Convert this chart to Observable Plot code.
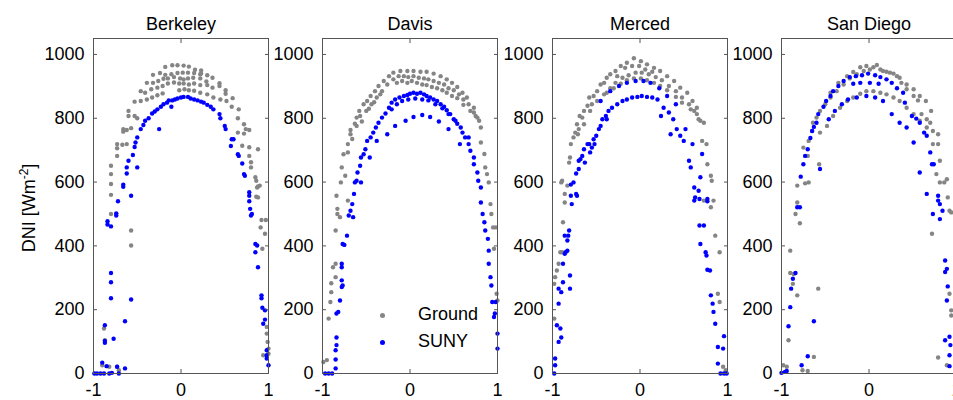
<!DOCTYPE html>
<html>
<head>
<meta charset="utf-8">
<script src="https://cdn.jsdelivr.net/npm/d3@7"></script>
<script src="https://cdn.jsdelivr.net/npm/@observablehq/plot@0.6"></script>
<style>
  html, body { margin: 0; padding: 0; background: #fff; }
  #chart { position: relative; width: 953px; height: 400px; overflow: hidden; background: #fff;
           font-family: "Liberation Sans", Arial, sans-serif; color: #000; }
  #chart svg { position: absolute; top: 0; }
  .ylab { position: absolute; left: 28px; top: 208px; transform: translate(-50%, -50%) rotate(-90deg);
          white-space: nowrap; font-size: 18px; }
  .ylab sup { font-size: 12px; }
  .leg { position: absolute; font-size: 18px; line-height: 20px; }
  .legdot { position: absolute; width: 5px; height: 5px; border-radius: 50%; }
</style>
</head>
<body>
<div id="chart"></div>
<script>
const sites = ["Berkeley", "Davis", "Merced", "San Diego"];
const seriesNames = ["Ground", "SUNY"];
const xTicks = [-1, 0, 1];
const yTicks = [0, 200, 400, 600, 800, 1000];

// [cosine-like x, DNI W/m^2]
const groundBerkeley = [
[-0.18,961],[-0.10,966],[-0.04,966],[0.03,965],[0.09,962],[0.16,952],[0.23,950],[0.23,940],[0.30,935],[0.36,927],[0.44,910],[0.44,901],[0.51,888],[0.51,877],[0.59,863],[0.58,836],[0.66,828],[0.65,800],[0.72,781],[0.74,766],[0.78,763],[0.72,752],[0.65,755],[0.70,714],[0.78,709],[0.88,703],[0.78,682],[0.80,662],[0.80,646],[0.85,615],[0.86,604],[0.88,586],[0.86,554],
[-0.32,936],[-0.24,942],[-0.18,936],[-0.11,938],[-0.04,942],[0.02,943],[0.08,943],[0.15,942],[0.22,938],
[-0.39,911],[-0.32,911],[-0.26,917],[-0.20,924],[-0.15,925],[-0.08,929],[-0.01,925],[0.03,922],[0.08,925],[0.14,927],[0.22,925],[0.29,915],
[-0.46,885],[-0.41,880],[-0.34,891],[-0.27,896],[-0.21,901],[-0.15,909],[-0.08,912],[-0.02,909],[0.03,909],[0.09,906],[0.15,909],[0.22,904],[0.30,904],[0.36,896],
[-0.53,852],[-0.46,854],[-0.39,859],[-0.33,865],[-0.27,872],[-0.21,878],
[-0.02,888],[0.04,891],[0.09,888],[0.15,886],[0.22,880],[0.30,875],[0.37,865],[0.45,859],[0.52,854],
[-0.60,823],[-0.60,807],[-0.53,807],[-0.50,800],[-0.66,766],[-0.66,758],[-0.62,763],[-0.57,769],[-0.73,719],[-0.73,706],[-0.67,717],[-0.62,719],[-0.73,682],[-0.80,651],[-0.80,625],[-0.80,594],[-0.80,560],[-0.80,500],
[0.92,481],[0.97,481],[0.91,458],[0.96,438],[0.93,391],[0.90,589],[0.87,583],[0.88,552],[0.98,125],[0.98,146],[0.99,99],[0.94,57],[1.0,62],[1.0,78],
[-0.88,141],[-0.87,104],[-0.90,26],[-0.82,21],[-0.73,21],[-0.71,10],[-0.57,448],[-0.57,401]
];
const sunyBerkeley = [
[-0.41,792],[-0.37,800],[-0.33,815],[-0.30,821],[-0.27,828],[-0.23,836],[-0.20,844],[-0.16,849],[-0.14,856],[-0.10,856],[-0.07,859],[-0.04,862],[0.00,865],[0.03,867],[0.08,867],[0.11,862],[0.15,859],[0.19,856],[0.23,852],[0.26,849],[0.30,842],[0.34,836],[0.37,828],[0.44,813],[0.45,800],[0.50,776],[0.51,766],[0.58,734],[0.60,734],[0.57,713],[0.65,687],[0.66,682],[0.70,658],[0.72,625],[0.73,620],[0.78,568],[0.78,557],[0.78,540],[0.79,516],[0.81,500],
[-0.43,779],[-0.46,766],[-0.50,740],[-0.52,724],[-0.53,710],[-0.55,685],[-0.60,667],[-0.62,646],[-0.62,627],[-0.66,592],[-0.66,585],[-0.72,540],[-0.74,502],[-0.74,495],[-0.57,557],[-0.50,646],[-0.25,766],[-0.11,836],
[-0.84,477],[-0.84,467],[-0.80,461],[-0.80,315],[-0.80,286],[-0.80,236],[-0.87,151],[-0.87,102],[-0.87,96],[-0.77,109],[-0.64,164],[-0.57,232],[-0.90,34],[-0.85,23],[-0.73,21],[-0.64,16],[-0.79,2],[-0.99,0],[-0.96,0],[-0.92,0],[-0.88,0],[-0.82,0],[-0.71,0],
[0.80,495],[0.85,406],[0.87,401],[0.85,380],[0.88,333],[0.92,245],[0.92,236],[0.93,206],[0.96,198],[0.94,156],[0.96,169],[0.98,73],[0.98,57],[0.98,47],[1.0,26]
];

const groundDavis = [
[-0.99,36],[-0.95,42],[-0.93,172],[-0.91,224],[-0.90,255],[-0.90,283],[-0.85,344],[-0.88,333],[-0.85,302],[-0.85,448],[-0.83,500],[-0.83,516],[-0.84,557],[-0.79,599],[-0.78,646],[-0.76,687],[-0.71,693],[-0.71,719],[-0.68,750],[-0.68,763],[-0.63,783],[-0.61,802],[-0.58,823],[-0.53,844],[-0.49,854],[-0.45,870],[-0.40,885],[-0.36,901],[-0.30,917],[-0.24,932],[-0.19,943],[-0.11,948],[-0.03,948],[0.04,948],[0.12,946],[0.19,946],[0.27,940],[0.35,932],[0.42,922],[0.48,911],[0.54,898],[0.60,880],[0.65,865],[0.73,833],[0.77,802],[0.81,771],[0.81,724],[0.85,688],[0.86,646],[0.88,625],[0.90,599],[0.92,531],[0.93,500],[0.95,458],[0.96,391],[0.98,458],[0.99,250],[1.0,229],
[-0.44,844],[-0.50,823],[-0.57,807],[-0.61,776],[-0.38,865],[-0.32,885],[-0.26,906],[-0.19,922],[-0.13,932],[-0.07,932],[-0.02,929],[0.04,932],[0.10,927],[0.16,925],[0.21,922],[0.27,917],[0.33,911],[0.39,906],[0.44,894],[0.50,888],[0.56,875],[0.61,859],[0.67,844],[0.73,818],[0.79,792],
[-0.15,911],[-0.09,917],[-0.03,911],[0.02,917],[0.08,911],[0.14,906],[0.19,904],[0.25,898],[0.31,894],[0.37,888],[0.42,880],[0.48,870],[0.54,863],[0.61,842],[0.69,823],[0.75,807],
[-0.71,542],[-0.80,490],[-0.74,620],[-0.66,735],[-0.55,790],[-0.47,830],[-0.41,850],[-0.34,875]
];
const sunyDavis = [
[-0.97,0],[-0.93,0],[-0.89,0],[-0.85,16],[-0.85,44],[-0.85,73],[-0.84,89],[-0.84,113],[-0.84,188],[-0.82,193],[-0.80,229],[-0.78,271],[-0.77,276],[-0.78,292],[-0.78,333],[-0.78,344],[-0.77,406],[-0.75,403],[-0.72,432],[-0.70,495],[-0.68,510],[-0.66,531],[-0.65,490],[-0.64,563],[-0.63,599],[-0.61,604],[-0.56,599],[-0.60,630],[-0.57,651],[-0.56,677],[-0.53,687],[-0.51,703],[-0.46,677],[-0.49,729],[-0.45,740],[-0.42,755],[-0.39,771],[-0.36,786],[-0.32,802],[-0.28,815],[-0.24,833],[-0.21,849],[-0.17,859],[-0.12,865],[-0.07,870],[-0.03,873],[0.00,877],[0.04,880],[0.08,877],[0.12,880],[0.16,875],[0.19,870],[0.23,865],[0.27,859],[0.31,854],[0.35,844],[0.39,836],[0.42,825],[0.46,813],[0.50,797],[0.54,783],[0.58,771],[0.60,755],[0.63,740],[0.67,719],[0.69,698],[0.73,677],[0.73,656],[0.77,630],[0.78,604],[0.81,583],[0.81,536],[0.83,500],[0.85,474],[0.86,448],[0.89,422],[0.90,385],[0.90,344],[0.92,302],[0.93,276],[0.94,224],[0.97,188],[0.96,177],[0.98,224],[1.0,125],[1.0,78],
[-0.26,750],[-0.17,776],[-0.05,792],[0.04,804],[0.14,810],[0.23,804],[0.33,790],[0.44,766],[0.57,719],[-0.38,729],
[-0.21,828],[-0.15,844],[-0.09,854],[-0.02,859],[0.06,862],[0.14,859],[0.21,856],[0.29,844],[0.37,831],[0.44,813],[0.52,792],[0.67,740]
];

const groundMerced = [
[-0.98,281],[-0.97,302],[-0.98,172],[-0.95,323],[-0.93,344],[-0.91,380],[-0.89,380],[-0.88,474],[-0.90,599],[-0.89,604],[-0.86,536],[-0.86,563],[-0.83,589],[-0.81,661],[-0.80,677],[-0.79,719],[-0.76,740],[-0.74,755],[-0.71,750],[-0.72,781],[-0.69,807],[-0.66,802],[-0.64,823],[-0.60,839],[-0.58,865],[-0.55,844],[-0.53,870],[-0.49,885],[-0.45,906],[-0.41,911],[-0.38,927],[-0.34,938],[-0.28,948],[-0.22,964],[-0.15,974],[-0.07,988],[0.01,979],[0.08,969],[0.16,958],[0.23,948],[0.31,932],[0.39,917],[0.46,896],[0.54,880],[0.60,854],[0.65,833],[0.69,792],[0.71,729],[0.76,719],[0.77,656],[0.81,620],[0.82,604],[0.81,521],[0.86,432],[0.91,380],[0.89,250],[0.91,224],[0.95,21],[0.98,10],
[-0.49,854],[-0.41,875],[-0.34,894],[-0.28,911],[-0.20,927],[-0.13,935],[-0.05,943],[0.02,943],[0.10,938],[0.18,929],[0.25,919],[0.33,901],[0.41,885],[0.48,865],[0.56,844],[0.62,823],[0.67,797],
[-0.38,880],[-0.30,894],[-0.22,908],[-0.15,919],[-0.07,925],[0.01,925],[0.08,919],[0.16,911],[0.23,901],[0.31,888],[0.41,867],[0.48,849],[0.58,828],[0.65,813],[0.73,786],[0.73,542],[0.84,542],
[-0.17,958],[-0.09,964],[-0.01,964],[0.06,953],[0.14,946],[-0.26,932],[-0.57,823],[-0.64,781],[-0.70,766]
];
const sunyMerced = [
[-0.98,0],[-0.97,47],[-0.97,26],[-0.95,151],[-0.93,99],[-0.90,113],[-0.91,141],[-0.93,219],[-0.93,266],[-0.90,255],[-0.88,286],[-0.88,344],[-0.86,375],[-0.85,380],[-0.83,385],[-0.86,432],[-0.82,432],[-0.83,417],[-0.81,448],[-0.80,266],[-0.80,307],[-0.79,557],[-0.78,531],[-0.79,592],[-0.76,599],[-0.73,563],[-0.72,557],[-0.73,627],[-0.70,641],[-0.70,667],[-0.68,672],[-0.66,682],[-0.63,661],[-0.64,703],[-0.60,719],[-0.58,719],[-0.57,693],[-0.55,708],[-0.52,719],[-0.53,734],[-0.50,745],[-0.47,766],[-0.45,776],[-0.43,797],[-0.39,807],[-0.36,823],[-0.38,797],[-0.32,833],[-0.26,844],[-0.20,854],[-0.15,859],[-0.09,865],[-0.03,867],[0.02,870],[0.08,867],[0.14,865],[0.20,859],[0.24,807],[0.27,833],[0.33,818],[0.35,750],[0.38,797],[0.42,766],[0.46,745],[0.50,729],[0.52,766],[0.60,719],[0.56,667],[0.58,646],[0.62,583],[0.63,552],[0.62,542],[0.67,573],[0.68,547],[0.69,615],[0.71,688],[0.77,547],[0.77,540],[0.68,464],[0.73,464],[0.69,406],[0.75,380],[0.76,370],[0.77,325],[0.80,323],[0.81,245],[0.83,219],[0.84,193],[0.86,156],[0.89,83],[0.89,31],[0.95,78],[0.96,117],[0.92,0],[0.96,0],[0.99,0],
[-0.34,885],[-0.24,901],[-0.15,911],[-0.05,917],[0.04,917],[0.12,911],[0.22,894],[0.31,870],[0.41,844],[-0.45,854]
];

const groundSanDiego = [
[-0.98,26],[-0.94,21],[-0.92,104],[-0.90,385],[-0.90,315],[-0.87,281],[-0.86,312],[-0.84,500],[-0.82,536],[-0.82,589],[-0.79,471],[-0.82,245],[-0.76,10],[-0.70,8],[-0.73,596],[-0.75,708],[-0.70,682],[-0.69,729],[-0.65,760],[-0.64,786],[-0.60,802],[-0.56,823],[-0.50,844],[-0.44,865],[-0.37,885],[-0.29,906],[-0.22,925],[-0.14,938],[-0.06,948],[0.01,953],[0.09,967],[0.16,948],[0.24,943],[0.32,932],[0.37,911],[0.43,891],[0.51,870],[0.56,856],[0.60,813],[0.66,797],[0.70,786],[0.73,760],[0.79,750],[0.79,719],[0.81,667],[0.77,625],[0.81,599],[0.86,599],[0.89,609],[0.90,552],[0.92,510],[0.94,505],[0.72,438],[0.92,250],[0.94,198],[0.94,182],[0.79,50],[0.89,26],
[-0.56,755],[-0.48,776],[-0.41,807],[-0.33,833],[-0.25,854],[-0.18,865],[-0.10,877],[-0.03,885],[0.05,885],[0.13,880],[0.20,875],[0.28,865],[0.35,854],[0.43,833],[0.51,813],[0.58,792],[0.66,771],[0.73,719],
[-0.44,880],[-0.35,911],[-0.25,932],[-0.18,945],[-0.10,960],[-0.03,964],[0.05,960],[0.13,953],[0.20,946],[0.28,940],[0.35,927],[0.43,906],[0.51,891],[0.58,870],[0.65,854],[0.71,823],
[-0.63,52],[-0.58,266],[-0.57,656],[-0.69,599]
];
const sunySanDiego = [
[-1.0,2],[-0.96,5],[-0.94,8],[-0.92,148],[-0.90,208],[-0.89,266],[-0.87,297],[-0.84,315],[-0.82,521],[-0.79,521],[-0.77,26],[-0.70,54],[-0.63,164],[-0.56,641],[-0.78,617],[-0.75,656],[-0.73,682],[-0.70,703],[-0.67,738],[-0.65,760],[-0.63,773],[-0.60,786],[-0.58,813],[-0.52,836],[-0.49,854],[-0.44,870],[-0.41,885],[-0.35,901],[-0.29,917],[-0.22,929],[-0.15,932],[-0.08,935],[-0.01,940],[0.07,935],[0.13,929],[0.20,922],[0.26,911],[0.32,894],[0.39,880],[0.41,849],[0.49,807],[0.54,799],[0.58,786],[0.63,755],[0.66,745],[0.70,693],[0.72,656],[0.74,656],[0.79,557],[0.79,542],[0.81,531],[0.81,484],[0.84,510],[0.87,354],[0.89,328],[0.87,318],[0.90,273],[0.89,229],[0.87,104],[0.92,115],[0.93,89],[0.92,57],[0.92,23],
[-0.46,797],[-0.39,823],[-0.31,844],[-0.24,859],[-0.14,865],[-0.03,870],[0.07,865],[0.16,854],[0.26,813],[0.35,786],[0.43,771],[0.51,724],[0.58,630],[0.66,563],[0.73,500],[-0.10,911],[0.01,911],[0.11,908],[-0.18,908]
];

const groundBySite = [groundBerkeley, groundDavis, groundMerced, groundSanDiego];
const sunyBySite = [sunyBerkeley, sunyDavis, sunyMerced, sunySanDiego];

const colors = {Ground: "#858585", SUNY: "#0000ff"};
const axisColor = "#555";
const frameLefts = [93, 322, 552, 781];
const ML = 60, FW = 175, MR = 20;

const chart = document.getElementById("chart");

function panel(title, ground, suny) {
  return Plot.plot({
    width: ML + FW + MR, height: 400,
    marginLeft: ML, marginRight: MR, marginTop: 38, marginBottom: 27,
    style: "background: transparent; overflow: visible; max-width: none; font-family: 'Liberation Sans', Arial, sans-serif; color: #000;",
    x: {domain: [-1, 1]},
    y: {domain: [0, 1050]},
    marks: [
      Plot.dot(ground, {x: d => d[0], y: d => d[1], r: 2.2, fill: colors.Ground}),
      Plot.dot(suny, {x: d => d[0], y: d => d[1], r: 2.2, fill: colors.SUNY}),
      Plot.frame({stroke: axisColor}),
      Plot.axisX({ticks: xTicks, anchor: "bottom", tickSize: -4, tickPadding: 14, tickFormat: d => String(d), fontSize: 18, label: null, stroke: axisColor, fill: "#000"}),
      Plot.axisX({ticks: xTicks, anchor: "top", tickSize: -4, tickFormat: () => "", label: null, stroke: axisColor}),
      Plot.axisY({ticks: yTicks, anchor: "left", tickSize: -4, tickPadding: 13, tickFormat: d => String(d), fontSize: 18, label: null, stroke: axisColor, fill: "#000"}),
      Plot.axisY({ticks: yTicks, anchor: "right", tickSize: -4, tickFormat: () => "", label: null, stroke: axisColor}),
      Plot.text([title], {text: d => d, frameAnchor: "top", dy: -21, fontSize: 18, fill: "#000"})
    ]
  });
}

sites.forEach((s, i) => {
  const svg = panel(s, groundBySite[i], sunyBySite[i]);
  svg.style.left = (frameLefts[i] - ML) + "px";
  chart.appendChild(svg);
});

// y-axis label
const yl = document.createElement("div");
yl.className = "ylab";
yl.innerHTML = "DNI [Wm<sup>-2</sup>]";
chart.appendChild(yl);

// legend (inside Davis panel)
const legY = [315, 342];
seriesNames.forEach((n, i) => {
  const dot = document.createElement("div");
  dot.className = "legdot";
  dot.style.background = colors[n];
  dot.style.left = "380px";
  dot.style.top = (legY[i] - 2.5) + "px";
  chart.appendChild(dot);
  const t = document.createElement("div");
  t.className = "leg";
  t.textContent = n;
  t.style.left = "418px";
  t.style.top = (legY[i] - 11) + "px";
  chart.appendChild(t);
});
</script>
</body>
</html>
